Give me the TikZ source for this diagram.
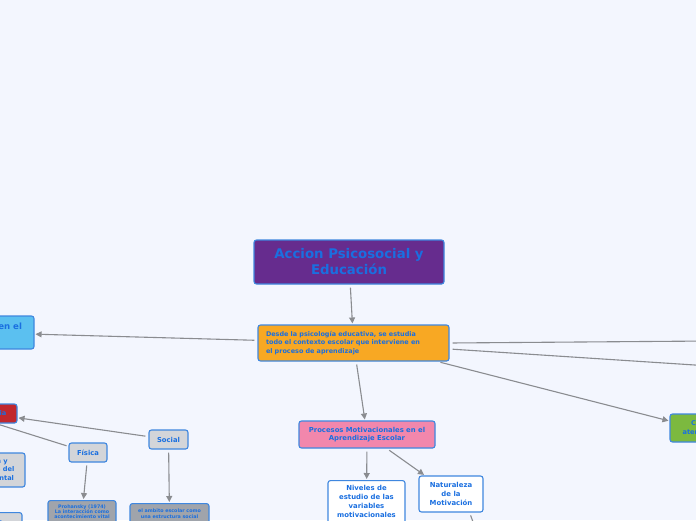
\documentclass[tikz,border=0pt]{standalone}
\usepackage{fontspec}
\setmainfont{DejaVu Sans}
\usetikzlibrary{arrows.meta}
\definecolor{bgc}{HTML}{F3F6FE}
\definecolor{bord}{HTML}{3F87DF}
\definecolor{txt}{HTML}{1A6FE0}
\definecolor{linec}{HTML}{8A8C90}
\definecolor{purp}{HTML}{662C8E}
\definecolor{orng}{HTML}{F8A823}
\definecolor{pnk}{HTML}{F287AC}
\definecolor{grn}{HTML}{7CB93F}
\definecolor{lblu}{HTML}{5BC0F0}
\definecolor{redc}{HTML}{C1272D}
\definecolor{lgray}{HTML}{D3D5D9}
\definecolor{dgray}{HTML}{A0A4AB}
\tikzset{
  box/.style={draw=bord, line width=1.1pt, rounded corners=2.5pt, text=txt,
    font=\bfseries, align=center, inner sep=0pt},
  conn/.style={draw=linec, line width=1.1pt},
  arr/.style={conn, -{Triangle[length=6pt,width=6pt]}, shorten >=1pt, shorten <=3pt}
}
\begin{document}
\begin{tikzpicture}[x=1pt,y=-1pt]
\useasboundingbox (0,0) rectangle (696,520);
\clip (0,0) rectangle (696,520);
\fill[bgc] (0,0) rectangle (696,520);

\node[box, fill=purp, minimum width=190pt, minimum height=44pt,
  font=\bfseries\fontsize{13.3}{16}\selectfont] (title) at (349,262)
  {Accion Psicosocial y\\Educación};

\node[box, fill=orng, minimum width=191pt, minimum height=36pt, align=left,
  text width=175pt, font=\bfseries\fontsize{6.45}{8.5}\selectfont] (orange) at (353.5,343)
  {Desde la psicología educativa, se estudia\\todo el contexto escolar que interviene en\\el proceso de aprendizaje};

\node[box, fill=pnk, minimum width=136pt, minimum height=27pt,
  font=\bfseries\fontsize{6.85}{8.4}\selectfont] (pink) at (367,434.5)
  {Procesos Motivacionales en el\\Aprendizaje Escolar};

\node[box, fill=white, minimum width=77pt, anchor=north, inner ysep=4.5pt,
  font=\bfseries\fontsize{6.9}{9}\selectfont] (niveles) at (366.5,480)
  {Niveles de\\estudio de las\\variables\\motivacionales\\ };

\node[box, fill=white, minimum width=64pt, minimum height=36pt,
  font=\bfseries\fontsize{6.9}{9}\selectfont] (natur) at (451,494)
  {Naturaleza\\de la\\Motivación};

\node[box, fill=grn, minimum width=64pt, minimum height=28pt,
  font=\bfseries\fontsize{6.6}{9}\selectfont] (green) at (702,428)
  {Carga\\atencional};

\node[box, fill=lblu, minimum width=118pt, minimum height=33pt,
  font=\bfseries\fontsize{8.6}{12}\selectfont] (lblue) at (-25,332.5)
  {La Motivación en el\\aula};

\node[box, fill=redc, minimum width=58pt, minimum height=19pt,
  font=\bfseries\fontsize{6.6}{8}\selectfont] (red) at (-12,413.5)
  {Influencia};

\node[box, fill=lgray, minimum width=38pt, minimum height=19pt,
  font=\bfseries\fontsize{6.8}{8}\selectfont] (fisica) at (88,452.5) {Física};

\node[box, fill=lgray, minimum width=39pt, minimum height=19pt,
  font=\bfseries\fontsize{6.8}{8}\selectfont] (social) at (168.5,439.5) {Social};

\node[box, fill=lgray, minimum width=90pt, minimum height=34pt,
  font=\bfseries\fontsize{6.6}{8.3}\selectfont] (gleft) at (-20,470)
  {Organización y\\características del\\espacio ambiental};

\node[box, fill=lgray, minimum width=70pt, minimum height=24pt, anchor=north,
  font=\bfseries\fontsize{4.8}{6}\selectfont] (bleft) at (-13,512)
  {Resultados\\ };

\node[box, fill=dgray, minimum width=68pt, anchor=north, inner ysep=4pt,
  font=\bfseries\fontsize{4.8}{5.2}\selectfont] (prohan) at (82,500)
  {Prohansky (1974)\\La interacción como\\acontecimiento vital\\ };

\node[box, fill=dgray, minimum width=79pt, anchor=north, inner ysep=5pt,
  font=\bfseries\fontsize{4.8}{5.8}\selectfont] (ambito) at (169.5,503)
  {el ambito escolar como\\una estructura social\\ };

\coordinate (r1) at (710,341);
\coordinate (r2) at (710,366);
\coordinate (nd) at (476,530);
\coordinate (fp) at (-60,406);

\draw[arr] (title) -- (orange);
\draw[arr] (orange) -- (lblue);
\draw[conn, shorten <=3pt] (orange.east) -- (r1);
\draw[conn, shorten <=3pt] ([yshift=-6pt]orange.east) -- (r2);
\draw[arr] ([xshift=84pt]orange.south) -- ([yshift=7pt]green.west);
\draw[arr] (orange) -- (pink);
\draw[arr] (pink) -- (niveles);
\draw[arr] (pink) -- (natur);
\draw[conn, shorten <=3pt] (natur.south east) ++(-14pt,0pt) coordinate (ns) -- (nd);
\draw[arr] (social) -- (red);
\draw[conn, shorten >=2pt] (fp) -- (fisica);
\draw[arr] (fisica) -- (prohan);
\draw[arr] (social) -- (ambito);
\end{tikzpicture}
\end{document}
